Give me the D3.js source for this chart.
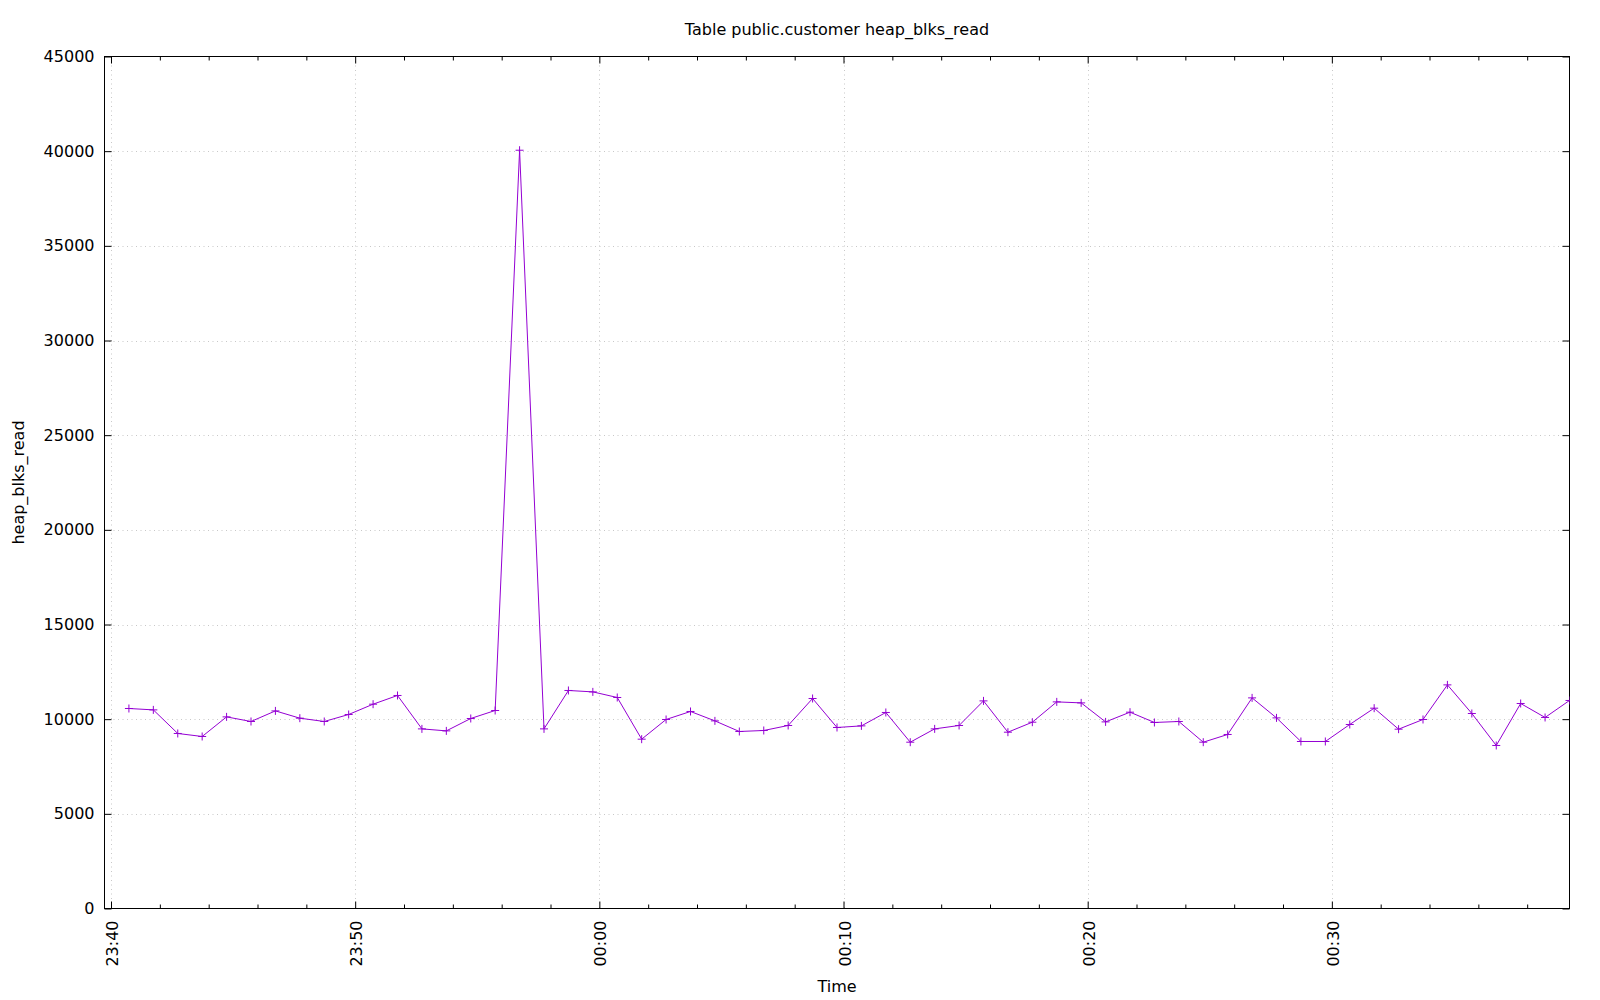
<!DOCTYPE html>
<html>
<head>
<meta charset="utf-8">
<script src="https://cdn.jsdelivr.net/npm/d3@7"></script>
<style>
  html, body { margin: 0; padding: 0; background: #fff; }
  svg { display: block; }
  text { font-family: "DejaVu Sans", sans-serif; fill: #000; }
</style>
</head>
<body>
<svg id="chart" width="1600" height="1000"></svg>
<script>
// ---- data ----
const title = "Table public.customer heap_blks_read";
const xLabel = "Time";
const yLabel = "heap_blks_read";
const times = [
  "23:40:44","23:41:44","23:42:44","23:43:44","23:44:44","23:45:44","23:46:44","23:47:44","23:48:44","23:49:44",
  "23:50:44","23:51:44","23:52:44","23:53:44","23:54:44","23:55:44","23:56:44","23:57:44","23:58:44","23:59:44",
  "00:00:44","00:01:44","00:02:44","00:03:44","00:04:44","00:05:44","00:06:44","00:07:44","00:08:44","00:09:44",
  "00:10:44","00:11:44","00:12:44","00:13:44","00:14:44","00:15:44","00:16:44","00:17:44","00:18:44","00:19:44",
  "00:20:44","00:21:44","00:22:44","00:23:44","00:24:44","00:25:44","00:26:44","00:27:44","00:28:44","00:29:44",
  "00:30:44","00:31:44","00:32:44","00:33:44","00:34:44","00:35:44","00:36:44","00:37:44","00:38:44","00:39:44"
];
const values = [
  10564,10490,9244,9085,10121,9877,10437,10052,9877,10247,
  10791,11251,9487,9381,10036,10458,40050,9487,11515,11441,
  11145,8943,9983,10406,9909,9349,9402,9666,11092,9560,
  9645,10353,8784,9487,9666,10966,9312,9840,10913,10860,
  9856,10369,9825,9877,8784,9191,11124,10068,8821,8821,
  9719,10580,9471,9983,11811,10300,8610,10828,10089,10987
];
const xDomain = ["23:39:44", "00:39:44"];
const xMajorTicks = ["23:40","23:50","00:00","00:10","00:20","00:30"];
const yTicks = [0,5000,10000,15000,20000,25000,30000,35000,40000,45000];

// ---- helpers ----
function toDate(s) {
  const p = s.split(":").map(Number);
  const day = p[0] >= 12 ? 1 : 2;
  return new Date(2024, 0, day, p[0], p[1], p[2] || 0);
}

const L = 104.5, R = 1569.5, T = 56.5, B = 908.5;
const svg = d3.select("#chart");

const x = d3.scaleTime().domain(xDomain.map(toDate)).range([L, R]);
const y = d3.scaleLinear().domain([0, 45000]).range([B, T]);

const majors = xMajorTicks.map(toDate);
const minors = d3.timeMinute.every(2).range(toDate("23:40"), x.domain()[1])
  .filter(d => d.getMinutes() % 10 !== 0);

// grid
const grid = svg.append("g").attr("stroke", "#c8c8c8").attr("stroke-width", 1)
  .attr("stroke-dasharray", "1,3.5");
grid.selectAll(".gy").data(yTicks.filter(v => v > 0 && v < 45000)).join("line")
  .attr("x1", L).attr("x2", R)
  .attr("y1", d => Math.round(y(d)) + 0.5).attr("y2", d => Math.round(y(d)) + 0.5);
grid.selectAll(".gx").data(majors).join("line")
  .attr("y1", T).attr("y2", B)
  .attr("x1", d => Math.round(x(d)) + 0.5).attr("x2", d => Math.round(x(d)) + 0.5);

// axes
const fmt = d3.timeFormat("%H:%M");
const yAxis = svg.append("g").attr("transform", `translate(${L},0)`)
  .call(d3.axisLeft(y).tickValues(yTicks).tickSize(-7).tickPadding(10).tickFormat(d3.format("d")));
const yAxisR = svg.append("g").attr("transform", `translate(${R},0)`)
  .call(d3.axisRight(y).tickValues(yTicks).tickSize(-7).tickFormat(""));
const xAxisB = svg.append("g").attr("transform", `translate(0,${B})`)
  .call(d3.axisBottom(x).tickValues(majors).tickSize(-7).tickFormat(fmt));
const xAxisBm = svg.append("g").attr("transform", `translate(0,${B})`)
  .call(d3.axisBottom(x).tickValues(minors).tickSize(-4).tickFormat(""));
const xAxisT = svg.append("g").attr("transform", `translate(0,${T})`)
  .call(d3.axisTop(x).tickValues(majors).tickSize(-7).tickFormat(""));
const xAxisTm = svg.append("g").attr("transform", `translate(0,${T})`)
  .call(d3.axisTop(x).tickValues(minors).tickSize(-4).tickFormat(""));

[yAxis, yAxisR, xAxisB, xAxisBm, xAxisT, xAxisTm].forEach(g => {
  g.select(".domain").remove();
  g.selectAll(".tick line").attr("stroke", "#000").attr("stroke-width", 1);
  g.selectAll("text").attr("font-family", "DejaVu Sans, sans-serif").attr("font-size", 16).attr("fill", "#000");
});
xAxisB.selectAll(".tick text")
  .attr("y", 0).attr("dy", "0.35em")
  .attr("text-anchor", "end")
  .attr("transform", "translate(1,12) rotate(-90)");

// frame
svg.append("rect").attr("x", L).attr("y", T).attr("width", R - L).attr("height", B - T)
  .attr("fill", "none").attr("stroke", "#000").attr("stroke-width", 1);

// clip
svg.append("clipPath").attr("id", "clip").append("rect")
  .attr("x", L).attr("y", T).attr("width", R - L).attr("height", B - T);

const data = times.map((t, i) => ({ t: toDate(t), v: values[i] }));
const plot = svg.append("g").attr("clip-path", "url(#clip)");
plot.append("path").datum(data)
  .attr("fill", "none").attr("stroke", "#9400d3").attr("stroke-width", 1)
  .attr("d", d3.line().x(d => x(d.t)).y(d => y(d.v)));
const s = 4;
plot.selectAll(".pt").data(data).join("path")
  .attr("stroke", "#9400d3").attr("stroke-width", 1).attr("fill", "none")
  .attr("d", d => {
    const px = x(d.t), py = y(d.v);
    return `M${px - s},${py}H${px + s}M${px},${py - s}V${py + s}`;
  });

// labels
svg.append("text").attr("x", (L + R) / 2).attr("y", 29).attr("dy", "0.35em")
  .attr("text-anchor", "middle").attr("font-size", 16).text(title);
svg.append("text").attr("x", (L + R) / 2).attr("y", 986).attr("dy", "0.35em")
  .attr("text-anchor", "middle").attr("font-size", 16).text(xLabel);
svg.append("text").attr("transform", `translate(18.5,${(T + B) / 2}) rotate(-90)`)
  .attr("dy", "0.35em").attr("text-anchor", "middle").attr("font-size", 16).text(yLabel);
</script>
</body>
</html>
